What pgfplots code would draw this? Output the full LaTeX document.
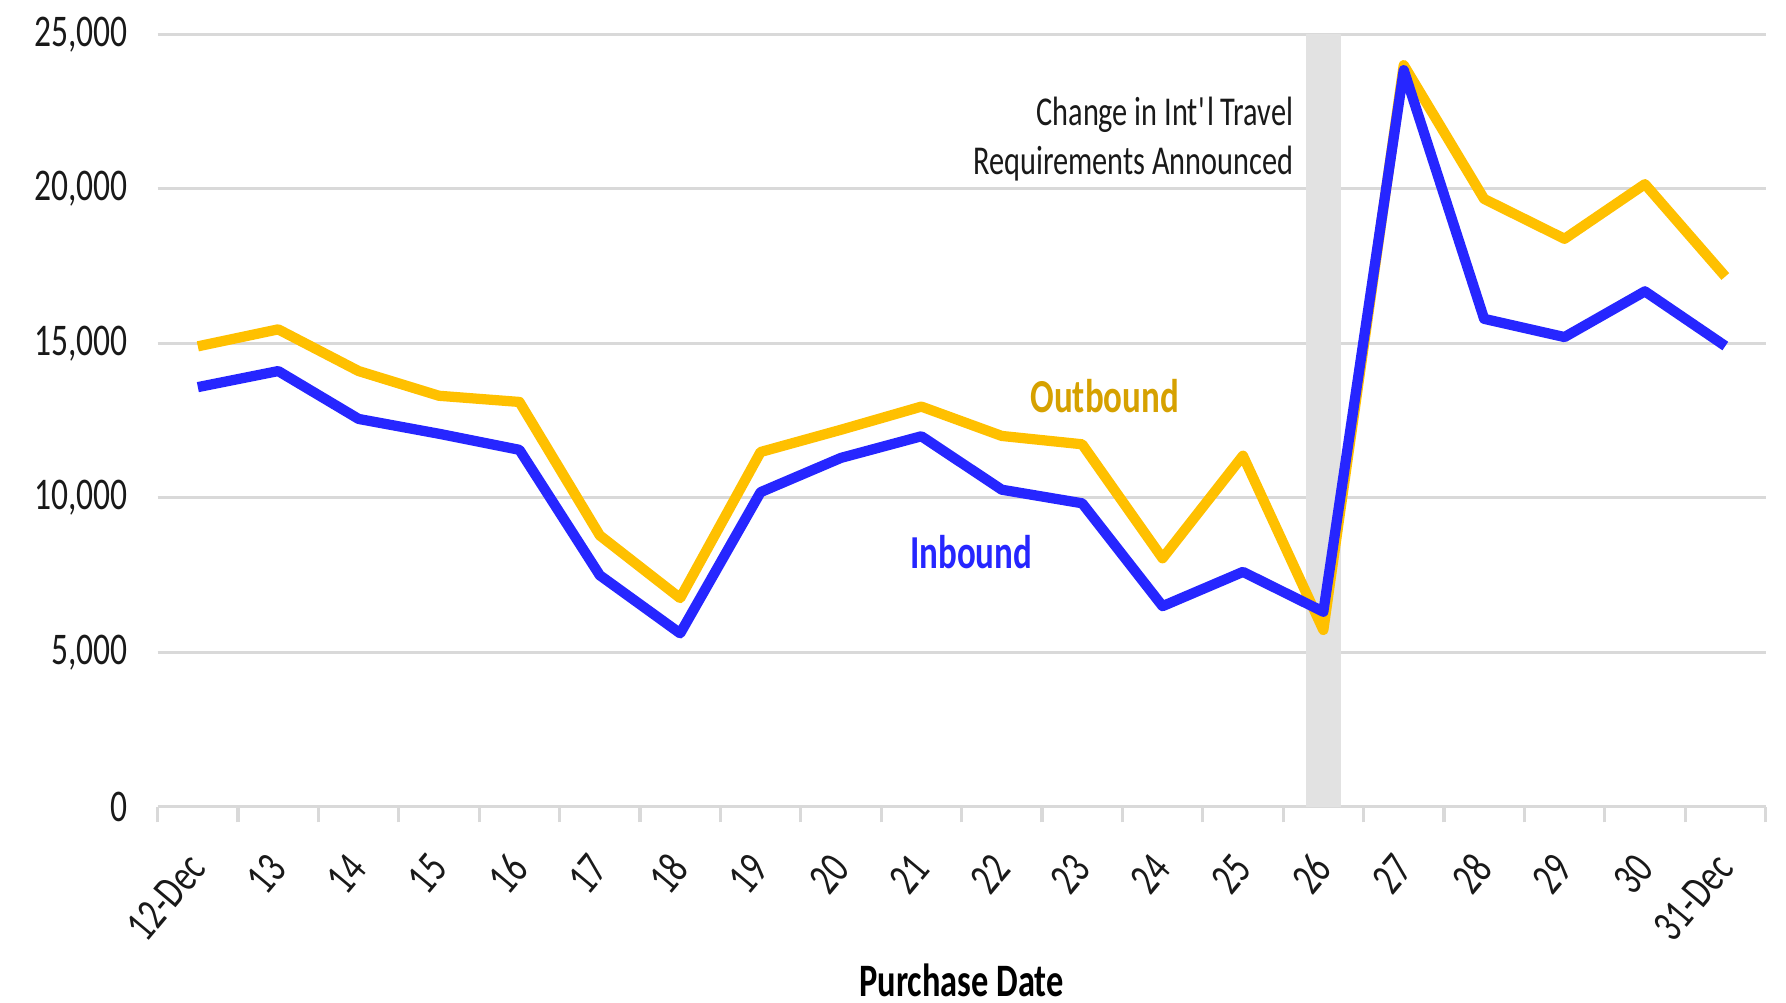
\documentclass[border=0pt]{standalone}
\usepackage{fontspec}
\setmainfont{Carlito}[FakeStretch=0.74]
\usepackage{pgfplots}
\pgfplotsset{compat=1.18}

\definecolor{outb}{RGB}{255,192,0}
\definecolor{outbtxt}{RGB}{214,161,0}
\definecolor{inb}{RGB}{38,38,255}
\definecolor{gridg}{RGB}{217,217,217}
\definecolor{bandg}{RGB}{226,226,226}

\begin{document}
\begin{tikzpicture}
\begin{axis}[
    name=ax,
    scale only axis,
    width=408pt, height=196pt,
    xmin=-0.5, xmax=19.5,
    ymin=0, ymax=25000,
    xtick={0,...,19},
    xticklabels={12-Dec,13,14,15,16,17,18,19,20,21,22,23,24,25,26,27,28,29,30,31-Dec},
    minor xtick={-0.5,0.5,...,19.5},
    ytick={0,5000,10000,15000,20000,25000},
    scaled y ticks=false,
    /pgf/number format/1000 sep={,},
    /pgf/number format/assume math mode=true,
    ymajorgrids,
    grid style={gridg, line width=0.8pt},
    axis line style={draw=none},
    major tick length=0pt, minor tick length=4pt,
    minor tick style={gridg, line width=0.8pt},
    tick align=outside, xtick pos=bottom, ytick pos=left,
    tick label style={font=\fontsize{11.5}{13}\selectfont, text=black!90},
    x tick label style={xshift=2pt, rotate=50, anchor=east},
    xticklabel shift=11pt,
    yticklabel shift=4pt,
    xlabel={\bfseries Purchase Date},
    xlabel style={font=\fontsize{11.8}{14}\selectfont, at={(axis description cs:0.5,0)}, anchor=center, yshift=-44pt},
]
\fill[bandg] (axis cs:13.78,0) rectangle (axis cs:14.22,25000);

% Outbound
\addplot[outb, line width=2.6pt, line join=round] coordinates {
(0,14900) (1,15450) (2,14100) (3,13300) (4,13100)
(5,8780) (6,6750) (7,11480) (8,12200) (9,12950)
(10,12000) (11,11730) (12,8040) (13,11360) (14,5720)
(15,24000) (16,19670) (17,18380) (18,20150) (19,17160)
};
% Inbound
\addplot[inb, line width=2.6pt, line join=round] coordinates {
(0,13580) (1,14100) (2,12550) (3,12070) (4,11550)
(5,7490) (6,5610) (7,10180) (8,11290) (9,11990)
(10,10260) (11,9820) (12,6490) (13,7600) (14,6310)
(15,23840) (16,15790) (17,15200) (18,16680) (19,14910)
};

\node[outbtxt, font=\fontsize{12}{14}\selectfont\bfseries] at (axis cs:11.28,13280) {Outbound};
\node[inb, font=\fontsize{12}{14}\selectfont\bfseries] at (axis cs:9.62,8230) {Inbound};
\node[anchor=east, align=right, font=\fontsize{10.4}{12.4}\selectfont, text=black!90] at (axis cs:13.8,21620)
  {Change in Int\textquotesingle l Travel\\Requirements Announced};
\end{axis}
\pgfresetboundingbox
\path[use as bounding box] ([xshift=-40pt,yshift=-49.8pt]ax.south west) rectangle ([xshift=5.2pt,yshift=8.7pt]ax.north east);
\end{tikzpicture}
\end{document}
